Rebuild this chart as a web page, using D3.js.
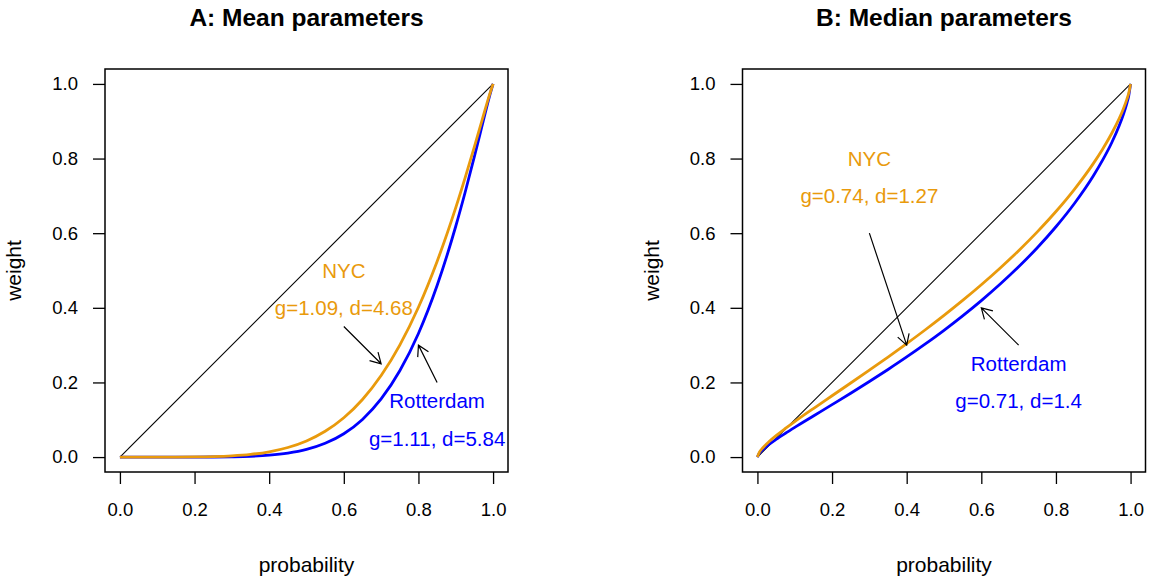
<!DOCTYPE html>
<html>
<head>
<meta charset="utf-8">
<script src="https://cdn.jsdelivr.net/npm/d3@7"></script>
<style>
  html, body { margin: 0; padding: 0; background: #fff; }
  svg { display: block; }
  text { font-family: "Liberation Sans", Arial, Helvetica, sans-serif; }
</style>
</head>
<body>
<svg id="chart" width="1152" height="579"></svg>
<script>
// ---------- data ----------
const titles = ["A: Mean parameters", "B: Median parameters"];
const xLabel = "probability";
const yLabel = "weight";
const tickValues = [0, 0.2, 0.4, 0.6, 0.8, 1.0];

// Panel A (mean parameters)
const probA = [0, 0.1, 0.15, 0.2, 0.25, 0.3, 0.35, 0.4, 0.45, 0.5, 0.55, 0.6, 0.65, 0.7, 0.75, 0.8, 0.85, 0.9, 0.925, 0.95, 0.97, 0.98, 0.99, 1];
const nycA = [0, 0.00001, 0.00008, 0.0004, 0.0013, 0.0033, 0.0072, 0.0142, 0.0257, 0.0433, 0.0691, 0.1053, 0.1543, 0.2184, 0.3001, 0.4015, 0.5243, 0.6685, 0.7483, 0.8321, 0.9011, 0.9356, 0.9694, 1];
const rotA = [0, 0, 0.00001, 0.00005, 0.0002, 0.0008, 0.0021, 0.0050, 0.0106, 0.0205, 0.0369, 0.0626, 0.1009, 0.1557, 0.2312, 0.3313, 0.4597, 0.6186, 0.7090, 0.8057, 0.8859, 0.9261, 0.9652, 1];

// Panel B (median parameters)
const probB = [0, 0.005, 0.01, 0.02, 0.03, 0.05, 0.075, 0.1, 0.15, 0.2, 0.25, 0.3, 0.35, 0.4, 0.45, 0.5, 0.55, 0.6, 0.65, 0.7, 0.75, 0.8, 0.85, 0.9, 0.925, 0.95, 0.97, 0.98, 0.99, 0.995, 1];
const nycB = [0, 0.0128, 0.0196, 0.0307, 0.0402, 0.0573, 0.0766, 0.0950, 0.1301, 0.1643, 0.1985, 0.2330, 0.2680, 0.3041, 0.3412, 0.3797, 0.4198, 0.4618, 0.5061, 0.5531, 0.6035, 0.6580, 0.7182, 0.7864, 0.8251, 0.8685, 0.9086, 0.9317, 0.9587, 0.9751, 1];
const rotB = [0, 0.0103, 0.0159, 0.0250, 0.0330, 0.0473, 0.0638, 0.0796, 0.1101, 0.1405, 0.1711, 0.2024, 0.2348, 0.2683, 0.3033, 0.3398, 0.3785, 0.4194, 0.4631, 0.5100, 0.5610, 0.6172, 0.6802, 0.7532, 0.7956, 0.8437, 0.8893, 0.9160, 0.9480, 0.9679, 1];

// annotations: [x, y, text, series]
const labelsA = [[0.6, 0.5, "NYC", "nyc"], [0.6, 0.4, "g=1.09, d=4.68", "nyc"], [0.85, 0.15, "Rotterdam", "rot"], [0.85, 0.05, "g=1.11, d=5.84", "rot"]];
const labelsB = [[0.3, 0.8, "NYC", "nyc"], [0.3, 0.7, "g=0.74, d=1.27", "nyc"], [0.7, 0.25, "Rotterdam", "rot"], [0.7, 0.15, "g=0.71, d=1.4", "rot"]];
// arrows: [x0, y0, x1, y1]
const arrowsA = [[0.6, 0.35, 0.7, 0.25], [0.85, 0.2, 0.8, 0.3]];
const arrowsB = [[0.3, 0.6, 0.4, 0.3], [0.7, 0.3, 0.6, 0.4]];

const colors = { nyc: "#E99A0C", rot: "#0000FF" };

// ---------- drawing ----------
const svg = d3.select("#chart");

const panels = [
  { left: 105, right: 508, title: titles[0], prob: probA, nyc: nycA, rot: rotA, labels: labelsA, arrows: arrowsA },
  { left: 742.5, right: 1145.5, title: titles[1], prob: probB, nyc: nycB, rot: rotB, labels: labelsB, arrows: arrowsB }
];
const plotTop = 69, plotBottom = 472;

panels.forEach(p => {
  const x = d3.scaleLinear().domain([-0.04, 1.04]).range([p.left, p.right]);
  const y = d3.scaleLinear().domain([-0.04, 1.04]).range([plotBottom, plotTop]);
  const g = svg.append("g");
  const cx = (p.left + p.right) / 2;

  // title
  g.append("text").attr("x", cx).attr("y", 25.5).attr("text-anchor", "middle")
    .attr("font-size", 24.5).attr("font-weight", "bold").attr("fill", "#000").text(p.title);

  // axes
  const xa = g.append("g").attr("transform", `translate(0,${plotBottom})`)
    .call(d3.axisBottom(x).tickValues(tickValues).tickFormat(d3.format(".1f")).tickSize(12).tickPadding(19));
  const ya = g.append("g").attr("transform", `translate(${p.left},0)`)
    .call(d3.axisLeft(y).tickValues(tickValues).tickFormat(d3.format(".1f")).tickSize(12).tickPadding(15));
  [xa, ya].forEach(a => {
    a.select(".domain").remove();
    a.selectAll("line").attr("stroke", "#000").attr("stroke-width", 1.3);
    a.selectAll("text").attr("font-size", 18.5).attr("fill", "#000")
      .attr("font-family", '"Liberation Sans", Arial, sans-serif');
  });

  // axis titles
  g.append("text").attr("x", cx).attr("y", 572).attr("text-anchor", "middle")
    .attr("font-size", 21).attr("fill", "#000").text(xLabel);
  g.append("text").attr("transform", `translate(${p.left - 84},${(plotTop + plotBottom) / 2}) rotate(-90)`)
    .attr("text-anchor", "middle").attr("font-size", 21).attr("fill", "#000").text(yLabel);

  // diagonal
  g.append("path").datum([0, 1])
    .attr("d", d3.line().x(d => x(d)).y(d => y(d)))
    .attr("stroke", "#000").attr("stroke-width", 1.1).attr("fill", "none");

  const line = d3.line().x(d => x(d[0])).y(d => y(d[1])).curve(d3.curveMonotoneX);
  g.append("path").datum(p.prob.map((v, i) => [v, p.rot[i]]))
    .attr("d", line).attr("stroke", colors.rot).attr("stroke-width", 2.8).attr("fill", "none");
  g.append("path").datum(p.prob.map((v, i) => [v, p.nyc[i]]))
    .attr("d", line).attr("stroke", colors.nyc).attr("stroke-width", 2.8).attr("fill", "none");

  // box
  g.append("rect").attr("x", p.left).attr("y", plotTop)
    .attr("width", p.right - p.left).attr("height", plotBottom - plotTop)
    .attr("fill", "none").attr("stroke", "#000").attr("stroke-width", 1.5);

  // labels
  p.labels.forEach(l => {
    g.append("text").attr("x", x(l[0])).attr("y", y(l[1])).attr("dy", "0.36em")
      .attr("text-anchor", "middle").attr("font-size", 20.5).attr("fill", colors[l[3]]).text(l[2]);
  });

  // arrows
  p.arrows.forEach(a => {
    const x0 = x(a[0]), y0 = y(a[1]), x1 = x(a[2]), y1 = y(a[3]);
    const ang = Math.atan2(y1 - y0, x1 - x0);
    const len = 12, spread = Math.PI / 6;
    const h1 = [x1 - len * Math.cos(ang - spread), y1 - len * Math.sin(ang - spread)];
    const h2 = [x1 - len * Math.cos(ang + spread), y1 - len * Math.sin(ang + spread)];
    g.append("path")
      .attr("d", `M${x0},${y0}L${x1},${y1}M${h1[0]},${h1[1]}L${x1},${y1}L${h2[0]},${h2[1]}`)
      .attr("stroke", "#000").attr("stroke-width", 1.2).attr("fill", "none");
  });
});
</script>
</body>
</html>
